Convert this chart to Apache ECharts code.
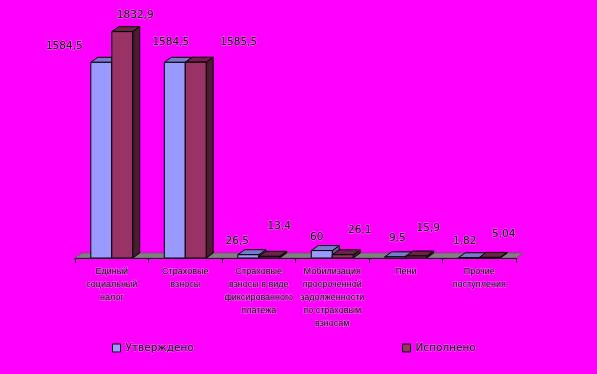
<!DOCTYPE html>
<html>
<head>
<meta charset="utf-8">
<script src="https://cdn.jsdelivr.net/npm/echarts@6/dist/echarts.min.js"></script>
<style>html,body{margin:0;padding:0;background:#FF00FF;}#c{width:597px;height:374px;}</style>
</head>
<body>
<div id="c"></div>
<script>
const categories = [
  'Единый\nсоциальный\nналог',
  'Страховые\nвзносы',
  'Страховые\nвзносы в виде\nфиксированного\nплатежа',
  'Мобилизация\nпросроченной\nзадолженности\nпо страховым\nвзносам',
  'Пени',
  'Прочие\nпоступления'
];
const seriesNames = ['Утверждено', 'Исполнено'];
const approved = [1584.5, 1584.5, 26.5, 60, 9.5, 1.82];
const executed = [1832.9, 1585.5, 13.4, 26.1, 15.9, 5.04];

// label placement (style only): offset of value label from bar's front-top centre
const approvedLabelOffsets = [[-37,-16],[-4,-20],[-11,-13],[-5,-13],[2,-19],[-4,-17]];
const executedLabelOffsets = [[13,-16],[43,-20],[10,-30],[17,-25],[12,-28],[14,-23]];

const DX = 7, DY = -5;
const HALO = 'rgba(255,255,255,0.4)';
const textStyleCommon = {
  fill: '#000', stroke: HALO, lineWidth: 1,
  font: '10.5px "DejaVu Sans"', align: 'center', verticalAlign: 'middle'
};

function fmt(v){ return String(v).replace('.', ','); }

function makeRender(sideIdx, colors, offsets){
  return function(params, api){
    const i = api.value(0), v = api.value(1);
    const base = api.coord([i, 0]);
    const top = api.coord([i, v]);
    const cw = api.size([1, 0])[0];
    const bw = cw * 0.285;
    const x0 = sideIdx === 0 ? base[0] - bw : base[0];
    const x1 = x0 + bw;
    const y0 = base[1], y1 = top[1];
    const st = {stroke: '#000', lineWidth: 1};
    const off = offsets[params.dataIndex];
    return {
      type: 'group',
      children: [
        {type: 'polygon', shape: {points: [[x1,y1],[x1+DX,y1+DY],[x1+DX,y0+DY],[x1,y0]]},
         style: Object.assign({fill: colors[2]}, st)},
        {type: 'polygon', shape: {points: [[x0,y1],[x0+DX,y1+DY],[x1+DX,y1+DY],[x1,y1]]},
         style: Object.assign({fill: colors[1]}, st)},
        {type: 'rect', shape: {x: x0, y: y1, width: bw, height: y0 - y1},
         style: Object.assign({fill: colors[0]}, st)},
        {type: 'text', x: (x0 + x1) / 2 + off[0], y: y1 + off[1],
         style: Object.assign({text: fmt(v)}, textStyleCommon)}
      ]
    };
  };
}

function floorRender(params, api){
  const cw = api.size([1, 0])[0];
  const l = api.coord([0, 0]); const r = api.coord([categories.length - 1, 0]);
  const xl = l[0] - cw / 2, xr = r[0] + cw / 2, y = l[1];
  return {
    type: 'polygon',
    shape: {points: [[xl,y],[xl+DX,y+DY],[xr+DX,y+DY],[xr,y]]},
    style: {fill: '#808080', stroke: '#505050', lineWidth: 0.6}
  };
}

const legendText = {color: '#000', fontFamily: 'DejaVu Sans', fontSize: 10.5, textBorderColor: HALO, textBorderWidth: 1};
const chart = echarts.init(document.getElementById('c'), null, {renderer: 'canvas'});
chart.setOption({
  backgroundColor: '#FF00FF',
  animation: false,
  grid: {left: 75, right: 81, top: 11, bottom: 116},
  xAxis: {
    type: 'category', data: categories, boundaryGap: true,
    axisLine: {show: true, lineStyle: {color: '#000', width: 1}},
    axisTick: {show: true, length: 5, lineStyle: {color: '#000'}},
    axisLabel: {interval: 0, margin: 7, color: '#000', fontFamily: 'Liberation Sans', fontSize: 9,
      lineHeight: 13, textBorderColor: HALO, textBorderWidth: 1}
  },
  yAxis: {type: 'value', min: 0, max: 2000, show: false, splitLine: {show: false}},
  legend: [
    {data: [seriesNames[0]], left: 112, top: 342, padding: 0, itemWidth: 8, itemHeight: 8, icon: 'rect',
     itemStyle: {borderColor: '#000', borderWidth: 1}, textStyle: legendText},
    {data: [seriesNames[1]], left: 402, top: 342, padding: 0, itemWidth: 8, itemHeight: 8, icon: 'rect',
     itemStyle: {borderColor: '#000', borderWidth: 1}, textStyle: legendText}
  ],
  series: [
    {type: 'custom', name: 'floor', silent: true, z: 1, renderItem: floorRender, data: [[0, 0]]},
    {type: 'custom', name: seriesNames[0], z: 2, itemStyle: {color: '#9999FF'},
     renderItem: makeRender(0, ['#9999FF', '#7A7ACC', '#5C5C99'], approvedLabelOffsets),
     data: approved.map((v, i) => [i, v])},
    {type: 'custom', name: seriesNames[1], z: 3, itemStyle: {color: '#993366'},
     renderItem: makeRender(1, ['#993366', '#6B2447', '#4C1A33'], executedLabelOffsets),
     data: executed.map((v, i) => [i, v])}
  ]
});
</script>
</body>
</html>
